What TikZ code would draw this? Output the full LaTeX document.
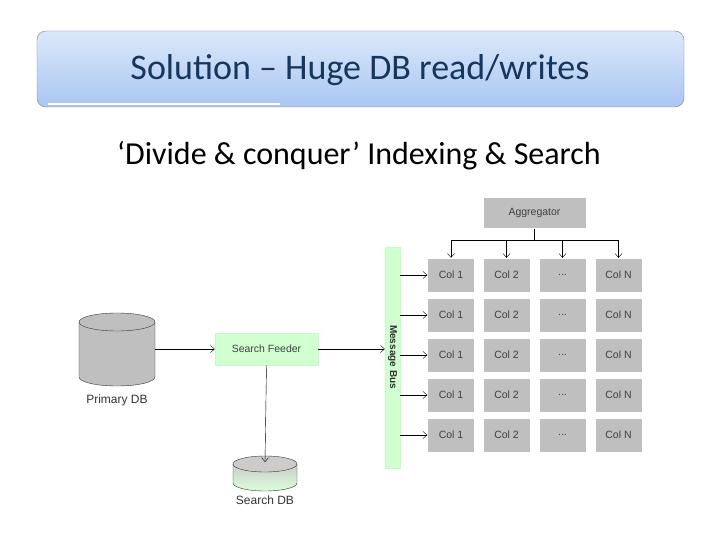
\documentclass[tikz,border=0pt]{standalone}
\usepackage{fontspec}
\setmainfont{Carlito}
\newfontfamily\arialf{Liberation Sans}
\definecolor{tboxa}{HTML}{DCE8FA}
\definecolor{tboxb}{HTML}{A9C6F2}
\definecolor{tcol}{HTML}{17365D}
\begin{document}
\begin{tikzpicture}[x=1pt,y=-1pt,
  cell/.style={draw=white,fill=black!25,minimum width=47pt,minimum height=34pt,inner sep=0pt,font=\arialf\fontsize{10.5}{11}\selectfont,text=black!75},
  green/.style={fill=green!18!white,draw=green!25!white},
  arr/.style={->,>={Straight Barb[length=4pt,width=7pt]},black}]
\usetikzlibrary{arrows.meta}
\useasboundingbox (0,0) rectangle (720,540);
\shade[top color=tboxa,bottom color=tboxb,rounded corners=9pt,draw=black!50] (37,31) rectangle (684,107);
\draw[white,line width=1.2pt] (48,104) -- (280,104);
\node[text=tcol] (title) at (360,70) {\fontsize{36}{38}\selectfont Solution -- Huge DB read/writes};
\node (sub) at (359,156) {\fontsize{32}{34}\selectfont ‘Divide \& conquer’ Indexing \& Search};
% aggregator
\node[cell,minimum width=103pt,minimum height=31pt] (agg) at (534.5,213) {Aggregator};
% grid
\foreach \r/\y in {1/275,2/315,3/355,4/395,5/435}{
  \node[cell] (c1\r) at (451,\y) {Col 1};
  \node[cell] (c2\r) at (506.5,\y) {Col 2};
  \node[cell] (c3\r) at (562.5,\y) {...};
  \node[cell] (c4\r) at (618.5,\y) {Col N};
}
% bus
\node[green,minimum width=15pt,minimum height=221pt,inner sep=0pt] (bus) at (392.5,357.5) {};
\node[rotate=-90,font=\arialf\bfseries\fontsize{10}{11}\selectfont,text=black!80] (bl) at (392.5,357) {Message Bus};
\foreach \r in {1,...,5}{ \draw[arr] (bus.east |- c1\r) -- (c1\r.west); }
\coordinate (aj) at (534.5,240);
\draw (agg.south) -- (aj);
\draw (c11.north |- aj) -- (c41.north |- aj);
\foreach \c in {1,...,4}{ \draw[arr] (c\c1.north |- aj) -- (c\c1.north); }
% primary DB
\fill[black!25] (79,322) -- (79,377) arc[start angle=180,end angle=0,x radius=38,y radius=9] -- (155,322) -- cycle;
\draw[black!80] (79,322) -- (79,377) arc[start angle=180,end angle=0,x radius=38,y radius=9] -- (155,322);
\draw[black!80,fill=black!25] (117,322) ellipse[x radius=38,y radius=9];
\node[font=\arialf\fontsize{12}{13}\selectfont,text=black!80] (pdb) at (117,400) {Primary DB};
\coordinate (pdbr) at (155,349);
\node[green,minimum width=103pt,minimum height=32pt,inner sep=0pt,font=\arialf\fontsize{10.5}{11}\selectfont,text=black!75] (feed) at (266.5,349) {Search Feeder};
\draw[arr] (pdbr) -- (feed.west);
\draw[arr] (feed.east) -- (bus.west |- feed);
% search DB
\shade[top color=black!20,bottom color=green!15!white] (233,464) -- (233,483) arc[start angle=180,end angle=0,x radius=32,y radius=8] -- (297,464) -- cycle;
\draw[black!80] (233,464) -- (233,483) arc[start angle=180,end angle=0,x radius=32,y radius=8] -- (297,464);
\draw[black!80,fill=black!20] (265,464) ellipse[x radius=32,y radius=8];
\coordinate (sdbt) at (265,462);
\draw[arr] (feed.south) -- (sdbt);
\node[font=\arialf\fontsize{12}{13}\selectfont,text=black!80] (sdb) at (265,500) {Search DB};
\end{tikzpicture}
\end{document}
